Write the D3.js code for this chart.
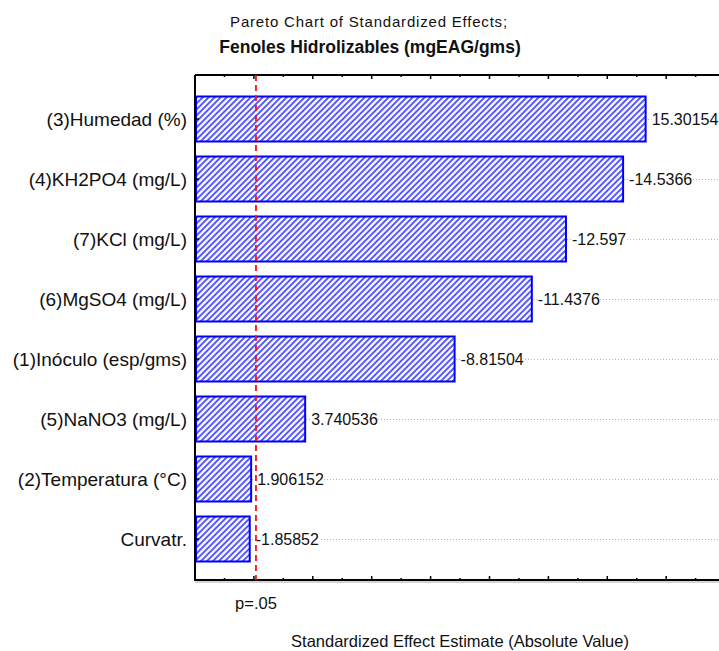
<!DOCTYPE html>
<html>
<head>
<meta charset="utf-8">
<script src="https://cdn.jsdelivr.net/npm/d3@7"></script>
<style>
  body { margin: 0; background: #fff; }
  svg { display: block; font-family: "Liberation Sans", Arial, sans-serif; }
</style>
</head>
<body>
<div id="chart"></div>
<script>
// factors in pareto order, top to bottom
const factors = ["(3)Humedad (%)", "(4)KH2PO4 (mg/L)", "(7)KCl (mg/L)", "(6)MgSO4 (mg/L)",
  "(1)Inóculo (esp/gms)", "(5)NaNO3 (mg/L)", "(2)Temperatura (°C)", "Curvatr."];
const effects = [15.30154, -14.5366, -12.597, -11.4376, -8.81504, 3.740536, 1.906152, -1.85852];
const effectLabels = ["15.30154", "-14.5366", "-12.597", "-11.4376", "-8.81504", "3.740536", "1.906152", "-1.85852"];
const pCritical = 2.07;
const pLabel = "p=.05";

const width = 719, height = 651;
const plotLeft = 195, plotTop = 75, plotBottom = 580;

const svg = d3.select("#chart").append("svg")
  .attr("width", width)
  .attr("height", height);

const defs = svg.append("defs");
const pat = defs.append("pattern")
  .attr("id", "hatch")
  .attr("patternUnits", "userSpaceOnUse")
  .attr("width", 6)
  .attr("height", 6);
pat.append("rect").attr("width", 6).attr("height", 6).attr("fill", "#f6f6ff");
pat.append("path")
  .attr("d", "M-1,7 L7,-1 M-4,4 L4,-4 M2,10 L10,2")
  .attr("stroke", "#5050ff")
  .attr("stroke-width", 1.8);

let x = d3.scaleLinear().domain([0, 18]).range([plotLeft, plotLeft + 18 * 29.45]);
let y = d3.scaleBand().domain(factors).range([89, 569]).paddingInner(0.25).paddingOuter(0.125);

// dotted guide lines
svg.append("g").selectAll("line")
  .data(factors)
  .enter().append("line")
  .attr("x1", plotLeft).attr("x2", width)
  .attr("y1", d => y(d) + y.bandwidth() / 2 + 0.5)
  .attr("y2", d => y(d) + y.bandwidth() / 2 + 0.5)
  .attr("stroke", "#b4b4b4")
  .attr("stroke-dasharray", "1,2");

// bars
svg.append("g").selectAll("rect")
  .data(effects)
  .enter().append("rect")
  .attr("x", x(0) + 1)
  .attr("y", (d, i) => y(factors[i]))
  .attr("width", d => x(Math.abs(d)) - x(0) - 1)
  .attr("height", y.bandwidth())
  .attr("fill", "url(#hatch)")
  .attr("stroke", "#0000ff")
  .attr("stroke-width", 2);

// value labels with white backing
const vl = svg.append("g").selectAll("g")
  .data(effects)
  .enter().append("g");
vl.append("rect").attr("fill", "#fff");
vl.append("text")
  .attr("x", d => x(Math.abs(d)) + 6)
  .attr("y", (d, i) => y(factors[i]) + y.bandwidth() / 2 + 6)
  .attr("font-size", 16)
  .attr("fill", "#111")
  .text((d, i) => effectLabels[i]);
vl.each(function () {
  const t = d3.select(this).select("text").node().getBBox();
  d3.select(this).select("rect")
    .attr("x", t.x).attr("y", t.y + 3).attr("width", t.width).attr("height", t.height - 6);
});

// category labels
svg.append("g").selectAll("text")
  .data(factors)
  .enter().append("text")
  .attr("x", 187)
  .attr("y", d => y(d) + y.bandwidth() / 2 + 7)
  .attr("text-anchor", "end")
  .attr("font-size", 19)
  .attr("fill", "#111")
  .text(d => d);

// frame and ticks
const frame = svg.append("g").attr("stroke", "#000").attr("stroke-width", 2);
frame.append("line").attr("x1", plotLeft).attr("x2", plotLeft).attr("y1", plotTop).attr("y2", plotBottom + 1);
frame.append("line").attr("x1", plotLeft).attr("x2", width).attr("y1", plotTop).attr("y2", plotTop);
frame.append("line").attr("x1", plotLeft).attr("x2", width).attr("y1", plotBottom).attr("y2", plotBottom);
svg.append("line").attr("x1", plotLeft).attr("x2", width).attr("y1", plotBottom + 2).attr("y2", plotBottom + 2)
  .attr("stroke", "#aaa").attr("stroke-width", 1);

const tickVals = d3.range(1, 18);
const tk = svg.append("g").attr("stroke", "#000").attr("stroke-width", 1.5);
tk.selectAll(".tb").data(tickVals).enter().append("line")
  .attr("x1", d => x(d)).attr("x2", d => x(d))
  .attr("y1", plotBottom).attr("y2", d => plotBottom - (d % 2 === 0 ? 4 : 2));
tk.selectAll(".tt").data(tickVals).enter().append("line")
  .attr("x1", d => x(d)).attr("x2", d => x(d))
  .attr("y1", plotTop).attr("y2", d => plotTop + (d % 2 === 0 ? 4 : 2));
tk.selectAll(".ty").data(factors).enter().append("line")
  .attr("x1", plotLeft).attr("x2", plotLeft + 4)
  .attr("y1", d => y(d) + y.bandwidth() / 2).attr("y2", d => y(d) + y.bandwidth() / 2);
tk.selectAll(".tym").data(factors).enter().append("line")
  .attr("x1", plotLeft).attr("x2", plotLeft + 2)
  .attr("y1", d => y(d) + y.bandwidth() / 2 + 15).attr("y2", d => y(d) + y.bandwidth() / 2 + 15);

// significance line
svg.append("line")
  .attr("x1", x(pCritical)).attr("x2", x(pCritical))
  .attr("y1", plotTop).attr("y2", plotBottom)
  .attr("stroke", "#ff1010")
  .attr("stroke-width", 1.8)
  .attr("stroke-dasharray", "6,4");
svg.append("text")
  .attr("x", x(pCritical))
  .attr("y", 609)
  .attr("text-anchor", "middle")
  .attr("font-size", 16.5)
  .attr("fill", "#111")
  .text(pLabel);

// titles
svg.append("text")
  .attr("x", 369).attr("y", 27)
  .attr("text-anchor", "middle")
  .attr("font-size", 15)
  .attr("letter-spacing", 0.8)
  .attr("fill", "#111")
  .text("Pareto Chart of Standardized Effects;");
svg.append("text")
  .attr("x", 370).attr("y", 53)
  .attr("text-anchor", "middle")
  .attr("font-size", 17.5)
  .attr("font-weight", "bold")
  .attr("fill", "#111")
  .text("Fenoles Hidrolizables (mgEAG/gms)");
svg.append("text")
  .attr("x", 460).attr("y", 647)
  .attr("text-anchor", "middle")
  .attr("font-size", 16.5)
  .attr("fill", "#111")
  .text("Standardized Effect Estimate (Absolute Value)");
</script>
</body>
</html>
